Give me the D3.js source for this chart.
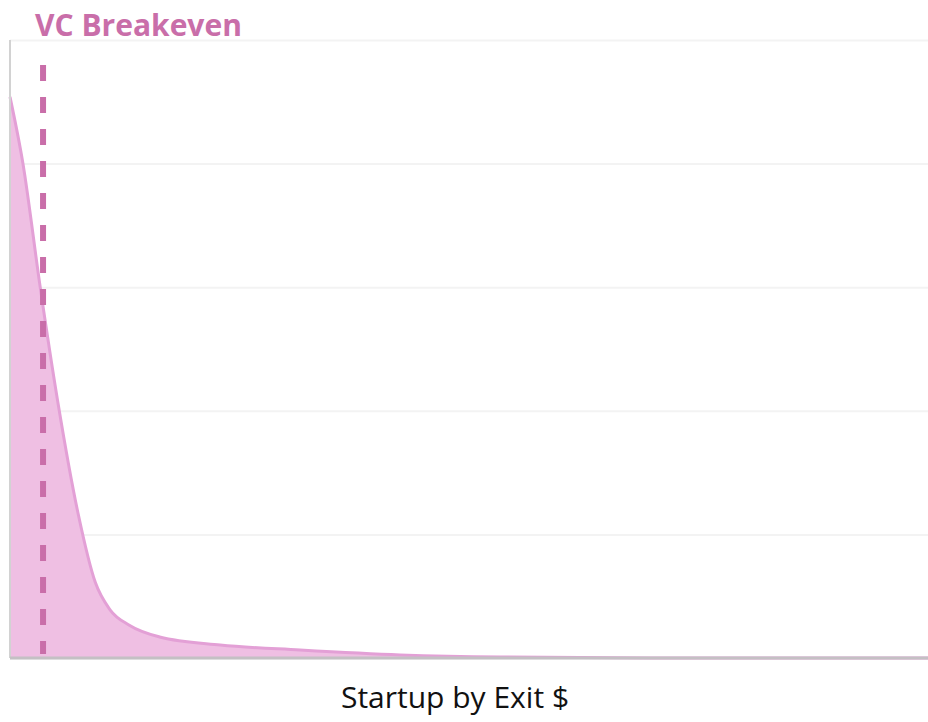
<!DOCTYPE html>
<html>
<head>
<meta charset="utf-8">
<script src="https://cdn.jsdelivr.net/npm/d3@7"></script>
<style>
  body { margin: 0; background: #fff; overflow: hidden; }
  svg { display: block; }
</style>
</head>
<body>
<div id="chart"></div>
<script>
// startup rank (percent of startups, sorted by exit) vs exit value (percent of max)
const rank = [0, 1.4, 3.3, 5.2, 7.4, 9.3, 10.9, 13, 16.3, 22.9, 31.6, 42.5, 53.4, 70, 100]
const exitValue = [90.8, 80.1, 59.9, 41.5, 23.5, 12.2, 7.8, 5.3, 3.4, 2.1, 1.3, 0.5, 0.15, 0.02, 0]
const breakeven = 3.6
const yTicks = [0, 20, 40, 60, 80, 100]
const title = 'VC Breakeven'
const xLabel = 'Startup by Exit $'

const width = 928
const height = 722
const margin = { top: 40, right: 0, bottom: 64, left: 10 }
const innerWidth = width - margin.left - margin.right
const innerHeight = height - margin.top - margin.bottom

const data = rank.map((r, i) => ({ r: r, v: exitValue[i] }))

const svg = d3.select('#chart').append('svg')
  .attr('width', width)
  .attr('height', height)

const g = svg.append('g')
  .attr('transform', 'translate(' + margin.left + ',' + margin.top + ')')

const xScale = d3.scaleLinear().domain([0, 100]).range([0, innerWidth])
const yScale = d3.scaleLinear().domain([0, 100]).range([innerHeight, 0])

// faint gridlines (no tick labels)
g.append('g')
  .attr('class', 'grid')
  .call(d3.axisLeft(yScale).tickValues(yTicks).tickSize(-innerWidth))
  .call(s => s.select('.domain').remove())
  .call(s => s.selectAll('text').remove())
  .call(s => s.selectAll('line').attr('stroke', '#f3f3f3').attr('stroke-width', 2))

// area + outline
const area = d3.area()
  .x(d => xScale(d.r))
  .y0(innerHeight)
  .y1(d => yScale(d.v))
  .curve(d3.curveMonotoneX)

const line = d3.line()
  .x(d => xScale(d.r))
  .y(d => yScale(d.v))
  .curve(d3.curveMonotoneX)

g.append('path')
  .datum(data)
  .attr('d', area)
  .attr('fill', '#efbfe3')

g.append('path')
  .datum(data)
  .attr('d', line)
  .attr('fill', 'none')
  .attr('stroke', '#e3a0d6')
  .attr('stroke-width', 3)

// axes lines
g.append('line')
  .attr('x1', 0).attr('x2', 0)
  .attr('y1', 0).attr('y2', innerHeight)
  .attr('stroke', '#d2d2d2')
  .attr('stroke-width', 2)

g.append('line')
  .attr('x1', 0).attr('x2', innerWidth)
  .attr('y1', innerHeight).attr('y2', innerHeight)
  .attr('stroke', '#c4c0c4')
  .attr('stroke-width', 3)

// breakeven dashed marker
g.append('line')
  .attr('x1', xScale(breakeven)).attr('x2', xScale(breakeven))
  .attr('y1', 25).attr('y2', innerHeight - 4)
  .attr('stroke', '#c96ea9')
  .attr('stroke-width', 6)
  .attr('stroke-dasharray', '16 16')

svg.append('text')
  .attr('x', 35)
  .attr('y', 36)
  .attr('fill', '#c96ea9')
  .style('font-family', '"Open Sans", sans-serif')
  .style('font-weight', 'bold')
  .style('font-size', '30px')
  .text(title)

svg.append('text')
  .attr('x', 455)
  .attr('y', 708)
  .attr('text-anchor', 'middle')
  .attr('fill', '#111')
  .style('font-family', '"Open Sans", sans-serif')
  .style('font-size', '30px')
  .text(xLabel)
</script>
</body>
</html>
